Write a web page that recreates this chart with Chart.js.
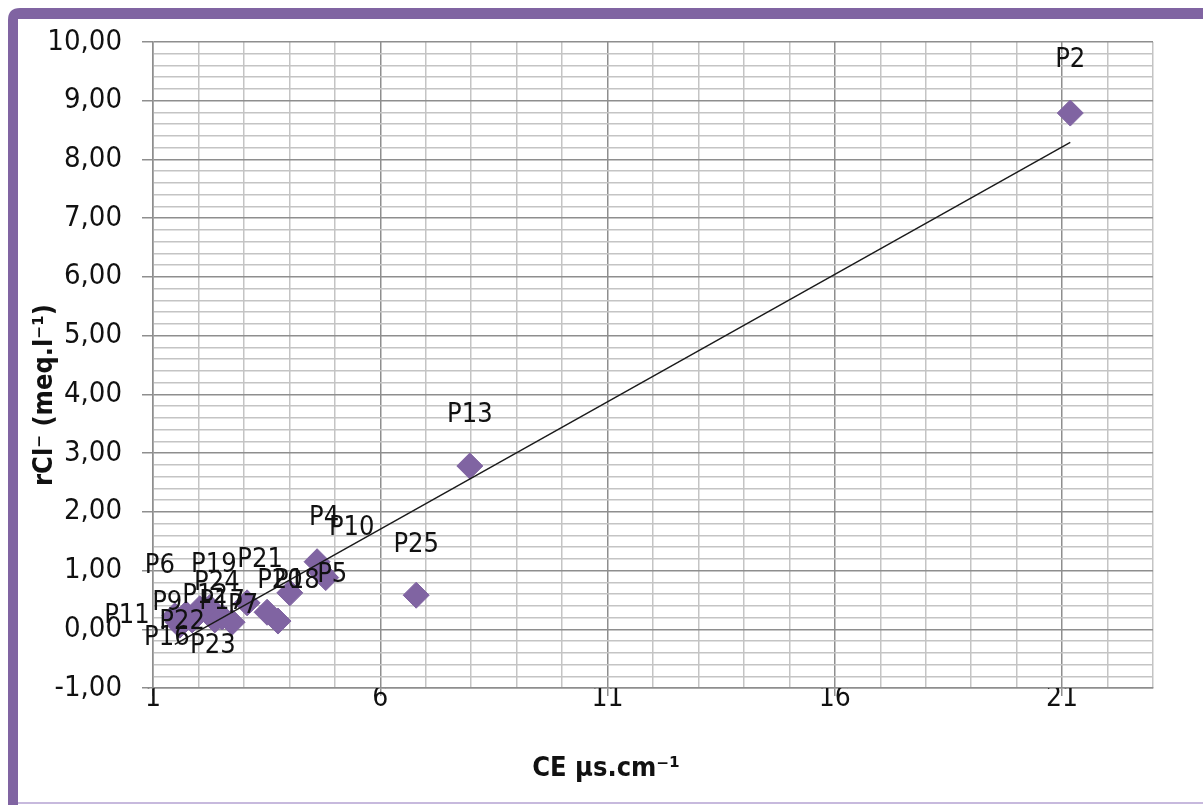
<!DOCTYPE html>
<html>
<head>
<meta charset="utf-8">
<title>rCl- vs CE</title>
<script src="https://cdn.jsdelivr.net/npm/chart.js@4.4.1/dist/chart.umd.min.js"></script>
<style>
  html, body { margin: 0; padding: 0; background: #ffffff; overflow: hidden; }
  #wrap { position: relative; width: 1203px; height: 805px; overflow: hidden; }
  canvas { display: block; }
</style>
</head>
<body>
<div id="wrap"><canvas id="chart" width="1203" height="805"></canvas></div>
<script>
// Well names, electrical conductivity (CE) and chloride (rCl-) per sample
const wellNames    = ['P11', 'P16', 'P6', 'P9', 'P22', 'P24', 'P19', 'P23', 'P12', 'P17',
                      'P7', 'P21', 'P20', 'P18', 'P4', 'P5', 'P10', 'P25', 'P13', 'P2'];
const conductivity = [1.55, 1.59, 1.48, 1.73, 1.86, 2.03, 2.25, 2.36, 2.52, 2.74,
                      3.07, 3.51, 3.75, 4.01, 4.61, 4.70, 4.80, 6.79, 7.97, 21.18];
const chloride     = [0.12, 0.07, 0.23, 0.26, 0.16, 0.35, 0.37, 0.16, 0.21, 0.12,
                      0.45, 0.29, 0.14, 0.62, 1.15, 0.97, 0.88, 0.58, 2.78, 8.79];

// Axis tick labels
const xTickLabels = ['1', '6', '11', '16', '21'];
const yTickLabels = ['-1,00', '0,00', '1,00', '2,00', '3,00', '4,00', '5,00',
                     '6,00', '7,00', '8,00', '9,00', '10,00'];

// Axis titles
const xTitle = 'CE µs.cm⁻¹';
const yTitle = 'rCl⁻ (meq.l⁻¹)';

// Where each well label sits relative to its marker (pixels)
const labelShift = {
  P11: [-51, -6], P16: [-13, 13], P6: [-15, -50], P9: [-19, -11], P22: [-10, 2],
  P24: [17, -26], P19: [4, -43], P23: [-2, 26], P12: [-17, -21], P17: [-10, -20],
  P7: [-4, 3], P21: [-7, -52], P20: [2, -40], P18: [7, -12], P4: [7, -44],
  P5: [11, 3], P10: [26, -50], P25: [0, -50], P13: [0, -51], P2: [0, -53]
};

const FONT = '"DejaVu Sans Condensed", "Liberation Sans Narrow", "DejaVu Sans", sans-serif';
const PURPLE = '#8064A2';
const MINOR_GRID = '#c4c4c4';
const MAJOR_GRID = '#8e8e8e';

const points = conductivity.map((x, i) => ({ x: x, y: chloride[i], name: wellNames[i] }));

// Least-squares linear trend over the samples, drawn across the sampled CE range
function linearTrend(xs, ys) {
  const n = xs.length;
  const mx = xs.reduce((a, b) => a + b, 0) / n;
  const my = ys.reduce((a, b) => a + b, 0) / n;
  let sxy = 0, sxx = 0;
  for (let i = 0; i < n; i++) {
    sxy += (xs[i] - mx) * (ys[i] - my);
    sxx += (xs[i] - mx) * (xs[i] - mx);
  }
  const slope = sxy / sxx;
  const intercept = my - slope * mx;
  const x0 = Math.min(...xs), x1 = Math.max(...xs);
  return [{ x: x0, y: intercept + slope * x0 }, { x: x1, y: intercept + slope * x1 }];
}
const trendPoints = linearTrend(conductivity, chloride);

const isInt = v => Math.abs(v - Math.round(v)) < 1e-6;

// Purple frame round the whole chart (top and left edges, thin line at the bottom)
const framePlugin = {
  id: 'frame',
  beforeDraw(chart) {
    const ctx = chart.ctx;
    const W = chart.width, H = chart.height;
    ctx.save();
    ctx.fillStyle = '#ffffff';
    ctx.fillRect(0, 0, W, H);
    ctx.fillStyle = PURPLE;
    ctx.beginPath();
    ctx.moveTo(8, H);
    ctx.lineTo(8, 20);
    ctx.quadraticCurveTo(8, 8, 20, 8);
    ctx.lineTo(W, 8);
    ctx.lineTo(W, 19);
    ctx.lineTo(18, 19);
    ctx.lineTo(18, H);
    ctx.closePath();
    ctx.fill();
    ctx.fillStyle = '#c7b9dd';
    ctx.fillRect(18, H - 3, W - 18, 2);
    ctx.restore();
  }
};

// Well names next to their markers
const wellLabelPlugin = {
  id: 'wellLabels',
  afterDatasetsDraw(chart) {
    const meta = chart.getDatasetMeta(1);
    const ctx = chart.ctx;
    ctx.save();
    ctx.font = '27px ' + FONT;
    ctx.fillStyle = '#111111';
    ctx.textAlign = 'center';
    ctx.textBaseline = 'middle';
    meta.data.forEach((el, i) => {
      const name = points[i].name;
      const s = labelShift[name] || [0, -50];
      ctx.fillText(name, el.x + s[0], el.y + s[1]);
    });
    ctx.restore();
  }
};

// Axis titles
const axisTitlePlugin = {
  id: 'axisTitles',
  afterDraw(chart) {
    const ctx = chart.ctx;
    ctx.save();
    ctx.font = 'bold 27px ' + FONT;
    ctx.fillStyle = '#111111';
    ctx.textAlign = 'center';
    ctx.textBaseline = 'middle';
    ctx.fillText(xTitle, 606, 769);
    ctx.translate(45, 395);
    ctx.rotate(-Math.PI / 2);
    ctx.fillText(yTitle, 0, 0);
    ctx.restore();
  }
};

new Chart(document.getElementById('chart'), {
  type: 'scatter',
  data: {
    datasets: [
      {
        label: 'Linéaire',
        type: 'line',
        data: trendPoints,
        borderColor: '#1a1a1a',
        borderWidth: 1.4,
        pointRadius: 0,
        fill: false,
        order: 1
      },
      {
        label: 'rCl',
        data: points,
        pointStyle: 'rectRot',
        pointRadius: 13,
        backgroundColor: PURPLE,
        borderColor: PURPLE,
        borderWidth: 1,
        order: 2
      }
    ]
  },
  options: {
    responsive: false,
    animation: false,
    devicePixelRatio: 1,
    layout: { padding: { top: 42, right: 50, left: 0, bottom: 0 } },
    plugins: { legend: { display: false }, tooltip: { enabled: false } },
    scales: {
      x: {
        type: 'linear',
        min: 1,
        max: 23,
        afterFit(scale) { scale.height = 117; },
        ticks: {
          stepSize: 1,
          autoSkip: false,
          maxRotation: 0,
          padding: -14,
          color: '#111111',
          font: { family: FONT, size: 28 },
          callback(v) {
            const i = xTickLabels.indexOf(String(Math.round(v)));
            return isInt(v) && i >= 0 ? xTickLabels[i] : '';
          }
        },
        grid: {
          color: c => (c.tick && isInt((c.tick.value - 1) / 5)) ? MAJOR_GRID : MINOR_GRID,
          lineWidth: 1.5,
          tickLength: 8,
          tickColor: c => (c.tick && isInt((c.tick.value - 1) / 5)) ? MAJOR_GRID : 'rgba(0,0,0,0)'
        },
        border: { color: MAJOR_GRID, width: 1.5 }
      },
      y: {
        min: -1,
        max: 10,
        afterFit(scale) { scale.width = 153; },
        ticks: {
          stepSize: 0.2,
          autoSkip: false,
          padding: 20,
          color: '#111111',
          font: { family: FONT, size: 29 },
          callback(v) {
            return isInt(v) ? yTickLabels[Math.round(v) + 1] : '';
          }
        },
        grid: {
          color: c => (c.tick && isInt(c.tick.value)) ? MAJOR_GRID : MINOR_GRID,
          lineWidth: 1.5,
          tickLength: 11,
          tickColor: c => (c.tick && isInt(c.tick.value)) ? MAJOR_GRID : 'rgba(0,0,0,0)'
        },
        border: { color: MAJOR_GRID, width: 1.5 }
      }
    }
  },
  plugins: [framePlugin, wellLabelPlugin, axisTitlePlugin]
});
</script>
</body>
</html>
